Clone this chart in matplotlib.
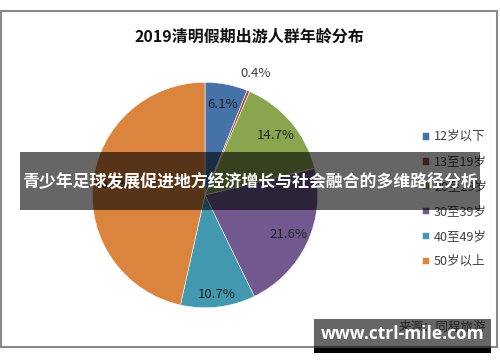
import matplotlib
matplotlib.use('Agg')
import matplotlib.pyplot as plt
from matplotlib.patches import Rectangle

plt.rcParams['font.family'] = ['Noto Sans CJK SC', 'DejaVu Sans']

# 数据
categories = ['12岁以下', '13至19岁', '20至29岁', '30至39岁', '40至49岁', '50岁以上']
shares = [6.1, 0.4, 14.7, 21.6, 10.7, 46.5]
colors = ['#4572A7', '#AA4643', '#89A54E', '#71588F', '#4198AF', '#DB843D']
title = '2019清明假期出游人群年龄分布'
banner = '青少年足球发展促进地方经济增长与社会融合的多维路径分析'
source = '来源：同程旅游'
site = 'www.ctrl-mile.com'

W, H = 500, 362
fig = plt.figure(figsize=(W / 100, H / 100), dpi=100)
fig.patch.set_facecolor('white')

def fx(px):
    return px / W

def fy(py):
    return 1 - py / H

# marco del gráfico
fig.patches.append(Rectangle((fx(1), fy(347)), fx(496), 336 / H, transform=fig.transFigure,
                             fill=False, edgecolor='#8a8a8a', linewidth=1.5, zorder=1))

fig.text(fx(249), fy(37), title, ha='center', va='center', fontsize=11.5,
         fontweight='bold', color='#111111')

# pastel
cx, cy, r = 205, 195, 115
ax = fig.add_axes([fx(cx - r), fy(cy + r), 2 * r / W, 2 * r / H])
wedges, texts, autotexts = ax.pie(shares, colors=colors, startangle=90, counterclock=False,
                                  autopct=lambda p: '%.1f%%' % p, pctdistance=0.82,
                                  wedgeprops=dict(edgecolor='white', linewidth=0.4),
                                  textprops=dict(fontsize=9.5, color='#222222'))
ax.set_xlim(-1.02, 1.02)
ax.set_ylim(-1.02, 1.02)
ax.set_aspect('equal')
ax.axis('off')
for t, lab in zip(autotexts, shares):
    t.set_text('%.1f%%' % lab)
# etiqueta pequeña fuera
x0, y0 = autotexts[1].get_position()
autotexts[1].set_position((x0 * 1.42, y0 * 1.42))
autotexts[1].set_color('#404040')
x3, y3 = autotexts[4].get_position()
autotexts[4].set_position((x3 * 1.08, y3 * 1.08))

# leyenda
leg = ax.legend(wedges, categories, loc='center left', frameon=False,
                bbox_to_anchor=(fx(411), fy(199)), bbox_transform=fig.transFigure,
                fontsize=9, handlelength=0.55, handleheight=0.55, handletextpad=0.4,
                labelspacing=0.95)
for t in leg.get_texts():
    t.set_color('#404040')

# fuente
fig.text(fx(486), fy(327), source, ha='right', va='center', fontsize=9, color='#595959')

# banner
fig.patches.append(Rectangle((fx(20), fy(210)), fx(460), 58 / H, transform=fig.transFigure,
                             facecolor='black', alpha=0.6, edgecolor='none', zorder=5))
fig.text(fx(250), fy(182), banner, ha='center', va='center', fontsize=12.2,
         fontweight='bold', color='white', zorder=6)

# marca de agua
fig.patches.append(Rectangle((fx(314), fy(348)), fx(177), 29 / H, transform=fig.transFigure,
                             facecolor='black', alpha=0.6, edgecolor='none', zorder=5))
fig.patches.append(Rectangle((fx(314), fy(353)), fx(177), 5 / H, transform=fig.transFigure,
                             facecolor='black', edgecolor='none', zorder=5))
fig.text(fx(403), fy(334), site, ha='center', va='center', fontsize=12.5,
         fontweight='bold', color='white', zorder=6, family=['Open Sans', 'DejaVu Sans'])

fig.savefig('out.png', dpi=100)
